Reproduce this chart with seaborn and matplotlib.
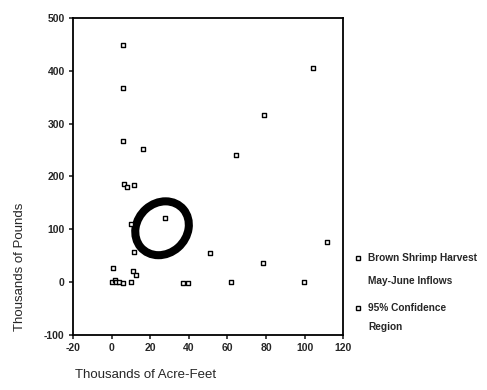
import pandas as pd
import matplotlib
matplotlib.use("Agg")
import matplotlib.pyplot as plt
from matplotlib.patches import Ellipse
from matplotlib.lines import Line2D
import seaborn as sns

# Inflow (thousands of acre-feet) vs brown shrimp harvest (thousands of pounds)
inflows = [5.7, 5.7, 5.7, 16.1, 6.6, 7.8, 11.6, 27.5, 9.9, 11.6, 0.9, 11.2, 12.5,
           0.3, 1.5, 2.5, 4.0, 6.0, 9.8, 37.0, 39.4,
           104.3, 79.0, 64.6, 111.7, 50.8, 78.6, 62.0, 99.6]
harvest = [449, 367, 267, 252, 185, 180, 184, 121, 111, 57, 26, 22, 13,
           0, 4, 0, 0, -1, 0, -1, -1,
           405, 317, 241, 76, 56, 36, 1, 0]

# 95% confidence region (centre, full width/height, tilt)
conf_center = (26.1, 102)
conf_width = 27.5
conf_height = 102.0
conf_angle = -2.2

x_ticks = [-20, 0, 20, 40, 60, 80, 100, 120]
y_ticks = [-100, 0, 100, 200, 300, 400, 500]
legend_labels = [("Brown Shrimp Harvest", "May-June Inflows"),
                 ("95% Confidence", "Region")]

df = pd.DataFrame({"Inflows": inflows, "Harvest": harvest})

sns.set_style("ticks")
plt.rcParams['font.family'] = ['Liberation Sans', 'DejaVu Sans']
plt.rcParams['axes.unicode_minus'] = False

fig = plt.figure(figsize=(4.87, 3.9), dpi=100)
ax = fig.add_axes([0.150, 0.141, 0.555, 0.813])

ell = Ellipse(conf_center, conf_width, conf_height, angle=conf_angle,
              fill=False, edgecolor="black", linewidth=5.8, zorder=2)
ax.add_patch(ell)

sns.scatterplot(data=df, x="Inflows", y="Harvest", marker="s", s=9,
                facecolor="white", edgecolor="black", linewidth=1.0,
                ax=ax, zorder=3, legend=False)

ax.set_xlim(-20, 120)
ax.set_ylim(-100, 500)
ax.set_xticks(x_ticks)
ax.set_yticks(y_ticks)
ax.tick_params(labelsize=7.5, length=3, width=1.2, pad=3)
for lab in ax.get_xticklabels() + ax.get_yticklabels():
    lab.set_fontweight("bold")
for sp in ax.spines.values():
    sp.set_linewidth(1.3)
    sp.set_color("black")
ax.set_xlabel("")
ax.set_ylabel("")

fig.text(0.154, 0.038, "Thousands of Acre-Feet", fontsize=9.5, ha="left", va="center")
fig.text(0.041, 0.315, "Thousands of Pounds", fontsize=9.5, rotation=90,
         ha="center", va="center")

# manual legend to the right of the axes
legend_top = [258, 308]   # pixel rows of first lines
legend_gap = [23, 19]     # gap to second line
for (first, second), top, gap in zip(legend_labels, legend_top, legend_gap):
    y = 1 - top / 390
    fig.add_artist(Line2D([358 / 487], [y], transform=fig.transFigure,
                          marker="s", linestyle="none", markersize=3.2,
                          markerfacecolor="white", markeredgecolor="black",
                          markeredgewidth=1))
    fig.text(368 / 487, y, first, fontsize=7.3, fontweight="bold",
             ha="left", va="center")
    fig.text(368 / 487, y - gap / 390, second, fontsize=7.3, fontweight="bold",
             ha="left", va="center")

fig.savefig("out.png", dpi=100)
